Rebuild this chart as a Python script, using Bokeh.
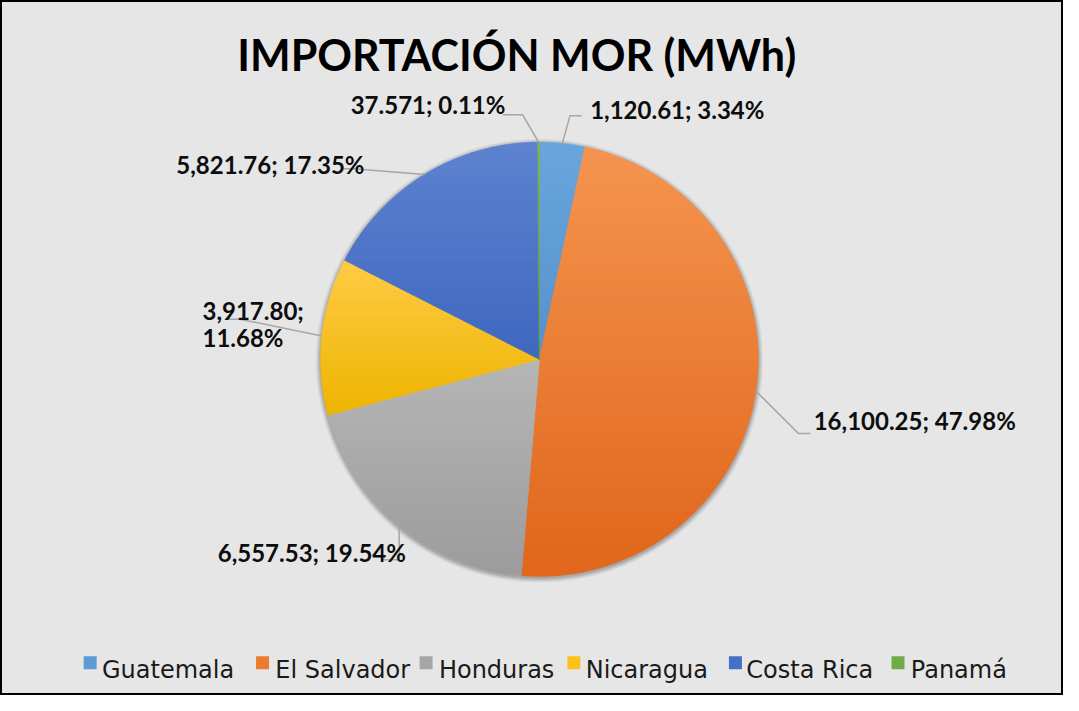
import numpy as np
from bokeh.plotting import figure
from bokeh.models import Range1d
from bokeh.embed import file_html
from bokeh.resources import INLINE
from bokeh.core.properties import value

# ---------------- data ----------------
categories = ["Guatemala", "El Salvador", "Honduras", "Nicaragua", "Costa Rica", "Panamá"]
mwh = [1120.61, 16100.25, 6557.53, 3917.80, 5821.76, 37.571]
value_labels = ["1,120.61", "16,100.25", "6,557.53", "3,917.80", "5,821.76", "37.571"]
title = "IMPORTACIÓN MOR (MWh)"

# ---------------- style ----------------
top_colors = ["#6aa6dc", "#f5944f", "#b6b6b6", "#ffcb45", "#5d83d0", "#78b84e"]
bottom_colors = ["#5592cd", "#e0661a", "#9c9c9c", "#eeb500", "#3e67bf", "#67a33e"]
legend_colors = ["#5e9bd6", "#ed7a2e", "#a6a6a6", "#fcc11c", "#4471c6", "#6fac46"]

W, H = 1079, 711            # reference frame (y grows downward)
CX, CY, R = 547, 367, 222   # pie centre and radius


def Y(y):
    return H - y


def hex2rgb(h):
    h = h.lstrip("#")
    return np.array([int(h[i:i + 2], 16) for i in (0, 2, 4)], dtype=float)


def mix(c1, c2, t):
    c = hex2rgb(c1) * (1 - t) + hex2rgb(c2) * t
    return "#%02x%02x%02x" % tuple(int(round(v)) for v in c)


def clip(poly, y0, keep_above):
    out = []
    n = len(poly)
    for k in range(n):
        P = poly[k]
        Q = poly[(k + 1) % n]
        pin = P[1] >= y0 if keep_above else P[1] <= y0
        qin = Q[1] >= y0 if keep_above else Q[1] <= y0
        if pin:
            out.append(P)
        if pin != qin:
            t = (y0 - P[1]) / (Q[1] - P[1])
            out.append((P[0] + t * (Q[0] - P[0]), y0))
    return out


def pt(c, r=R):
    th = np.deg2rad(90 - 360 * c)
    return (CX + r * np.cos(th), CY - r * np.sin(th))


total = sum(mwh)
fracs = [v / total for v in mwh]
cum = np.concatenate([[0], np.cumsum(fracs)])

p = figure(width=1063, height=695, x_range=Range1d(0, W), y_range=Range1d(0, H),
           output_backend="svg", toolbar_location=None, min_border=0,
           x_axis_type=None, y_axis_type=None)
p.grid.visible = False
p.background_fill_color = "#e6e6e6"
p.border_fill_color = "#e6e6e6"
p.outline_line_color = "black"
p.outline_line_width = 3

# soft shadow around the pie
ang = np.linspace(0, 2 * np.pi, 300)
for k, a in [(5, 0.04), (4, 0.05), (3, 0.06), (2, 0.07), (1, 0.08)]:
    p.patch(CX + (R + k) * np.cos(ang), Y(CY + 1.5 + (R + k) * np.sin(ang)),
            fill_color="black", fill_alpha=a, line_color=None)

# slices with vertical gradient
xs, ys, cols = [], [], []
for i in range(len(mwh)):
    c0, c1 = cum[i], cum[i + 1]
    n = max(3, int(600 * (c1 - c0)) + 3)
    poly = [(CX, CY)] + [pt(c) for c in np.linspace(c0, c1, n)]
    ymin = min(q[1] for q in poly)
    ymax = max(q[1] for q in poly)
    nb = 40
    h = (ymax - ymin) / nb
    for b in range(nb):
        y0 = ymin + b * h
        y1 = y0 + h
        band = clip(clip(poly, y0, True), y1, False)
        if len(band) >= 3:
            xs.append([q[0] for q in band])
            ys.append([Y(q[1]) for q in band])
            cols.append(mix(top_colors[i], bottom_colors[i], (b + 0.5) / nb))
p.patches(xs, ys, fill_color=cols, line_color=cols, line_width=0.8)

# leader lines (elbow, end) per slice, in reference coords
leader_layout = [
    [(578, 118), (590, 118)],
    [(810, 443), (822, 443)],
    [(405, 572), (387, 572)],
    [(243, 326), (230, 326)],
    [(358, 172), (348, 172)],
    [(530, 117), (510, 117)],
]
lx, ly = [], []
for i, lay in enumerate(leader_layout):
    start = pt((cum[i] + cum[i + 1]) / 2)
    pts = [start] + lay
    lx.append([q[0] for q in pts])
    ly.append([Y(q[1]) for q in pts])
p.multi_line(lx, ly, line_color="#a6a6a6", line_width=1.5)

# data labels
pct_labels = ["%.2f%%" % (f * 100) for f in fracs]
label_pos = {0: (687, 111), 1: (928, 430), 2: (316, 565), 4: (274, 168), 5: (434, 106)}
for i, (x, y) in label_pos.items():
    p.text(x=[x], y=[Y(y)], text=[value_labels[i] + "; " + pct_labels[i]],
           text_font=value("Lato"), text_font_style="bold", text_font_size="24px",
           text_align="center", text_baseline="alphabetic", text_color="#0d0d0d")
# Nicaragua label on two lines
p.text(x=[205, 205], y=[Y(317), Y(345)], text=[value_labels[3] + ";", pct_labels[3]],
       text_font=value("Lato"), text_font_style="bold", text_font_size="24px",
       text_align="left", text_baseline="alphabetic", text_color="#0d0d0d")

# title
p.text(x=[524], y=[Y(55)], text=[title], text_font=value("Lato"),
       text_font_style="bold", text_font_size="43px", text_align="center",
       text_baseline="alphabetic", text_color="black")

# legend
legend_sq_x = [91, 266, 432, 582, 746, 911]
legend_tx_x = [103, 279, 445, 594, 757, 924]
p.scatter(x=legend_sq_x, y=[Y(677.5)] * 6, marker="square", size=13,
          fill_color=legend_colors, line_color=None)
p.text(x=legend_tx_x, y=[Y(685)] * 6, text=categories, text_font=value("DejaVu Sans"),
       text_font_size="24px", text_align="left", text_baseline="alphabetic",
       text_color="#1a1a1a")

open("out.html", "w").write(file_html(p, INLINE))
